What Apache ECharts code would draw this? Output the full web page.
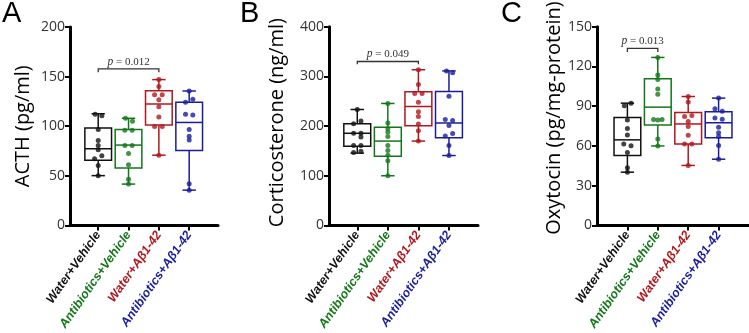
<!DOCTYPE html>
<html>
<head>
<meta charset="utf-8">
<script src="https://cdn.jsdelivr.net/npm/echarts@6/dist/echarts.min.js"></script>
<style>
html,body{margin:0;padding:0;background:#fff;}
#chart{width:749px;height:333px;}
</style>
</head>
<body>
<div id="chart"></div>
<script>
// ---------- data ----------
const categories = ['Water+Vehicle', 'Antibiotics+Vehicle', 'Water+A\u03b21-42', 'Antibiotics+A\u03b21-42'];
const categoryPositions = [1, 2, 3, 4];

// box stats: [min, q1, median, q3, max]
const acthBox = [[50.2, 65.7, 77.3, 98.3, 112.6], [41.7, 57.8, 81, 96.8, 108], [70.8, 101.2, 122.4, 135.8, 147], [35.6, 75.5, 103.8, 124.2, 135.5]];
const acthPoints = [
  [112, 110.5, 96.8, 85.5, 80.7, 76.4, 70.3, 67.3, 60.3, 50.2],
  [108, 105, 95.9, 95.9, 80.7, 80.7, 72.5, 61.2, 46.6, 41.7],
  [147, 140, 131.8, 131.8, 126.6, 119.6, 109.3, 99.8, 99.8, 70.8],
  [135.5, 127.2, 124.2, 112, 111.4, 96.8, 89.8, 86.1, 42, 35.6]
];
const acthJitter = [
  [-0.1, 0.12, 0, 0, 0, 0, 0.12, -0.12, 0, 0],
  [-0.1, 0.13, -0.12, 0.12, -0.12, 0.12, 0, 0, 0, 0],
  [0, 0, -0.14, 0.11, 0, 0, 0, -0.14, 0.11, 0],
  [0, 0.12, -0.12, -0.12, 0.12, 0, 0, 0, 0, 0]
];
const acthTicks = [0, 200, 50];
const acthBracket = [[1, 3, 157.7, 154.3]];
const acthP = '0.012';

const cortBox = [[145.5, 159.5, 185.5, 204.9, 233.4], [100, 139.4, 169.8, 197.6, 245.5], [169.8, 200.7, 239.4, 269, 313.4], [140.7, 176.4, 206.2, 269.8, 311]];
const cortPoints = [
  [233.4, 210.4, 204.9, 185.5, 185.5, 178.2, 160.7, 160.7, 149.1, 146.7],
  [245.5, 206.1, 195.2, 188, 178.9, 160.7, 151, 141.3, 130.4, 100],
  [313.4, 283.6, 265.5, 265.5, 248, 229, 219.5, 204.3, 190.4, 169.8],
  [311, 307.3, 260, 213.4, 211, 201.3, 184.9, 180, 160.7, 140.7]
];
const cortJitter = [
  [0, 0.12, -0.12, -0.12, 0.12, 0.12, -0.12, 0.12, 0.12, -0.12],
  [0, 0, 0, 0, 0, 0, 0, 0, 0, 0],
  [0, 0, -0.12, 0.12, 0, 0, 0, 0, 0, 0],
  [-0.08, 0.12, 0, -0.12, 0.12, 0, 0.12, -0.12, 0, 0]
];
const cortTicks = [0, 400, 100];
const cortBracket = [[1, 3, 330, 324.4]];
const cortP = '0.049';

const oxyBox = [[40.2, 52.8, 64.6, 81.4, 92.3], [60, 75.9, 89.3, 110.7, 126.8], [45.3, 61.4, 76.6, 85.2, 97.3], [50, 66.1, 77.5, 85.9, 96.1]];
const oxyPoints = [
  [92.3, 90.3, 79.6, 73.2, 68.2, 61.4, 60.2, 55, 43.6, 40.2],
  [126.8, 113.6, 110.2, 103, 99.1, 80, 79.6, 80, 65.2, 60],
  [97.3, 93.2, 83, 82.3, 78.4, 74.6, 68, 61.4, 61.4, 45.3],
  [96.1, 88, 86.2, 81.1, 80.2, 74.1, 70, 67.1, 60.3, 50]
];
const oxyJitter = [
  [0.12, -0.1, 0, 0, 0, -0.12, 0.12, 0, 0, 0],
  [0, 0, 0, 0, 0, -0.14, 0, 0.14, 0, 0],
  [0, 0, 0.12, -0.12, 0, 0, 0, -0.12, 0.12, 0],
  [0, -0.12, 0.12, -0.12, 0.12, 0, 0, 0, 0, 0]
];
const oxyTicks = [0, 150, 30];
const oxyBracket = [[1, 2, 133.6, 131]];
const oxyP = '0.013';

const yNames = ['ACTH (pg/ml)', 'Corticosterone (ng/ml)', 'Oxytocin (pg/mg-protein)'];
const panelLetters = ['A', 'B', 'C'];

// ---------- styles / layout ----------
const colors = ['#111111', '#13771a', '#b0181e', '#1a1e9a'];
const panels = [
  {box: acthBox, pts: acthPoints, jit: acthJitter, ticks: acthTicks, bracket: acthBracket, p: acthP,
   grid: {left: 70, top: 27, width: 148, height: 219}, xr: [0.07, 4.95], nameGap: 37, namePad: 0, letterLeft: 2},
  {box: cortBox, pts: cortPoints, jit: cortJitter, ticks: cortTicks, bracket: cortBracket, p: cortP,
   grid: {left: 329, top: 26.7, width: 149, height: 220}, xr: [0.075, 4.95], nameGap: 42, namePad: 7, letterLeft: 240},
  {box: oxyBox, pts: oxyPoints, jit: oxyJitter, ticks: oxyTicks, bracket: oxyBracket, p: oxyP,
   grid: {left: 597, top: 26.7, width: 152, height: 220}, xr: [0, 5.0], nameGap: 29, namePad: 16, letterLeft: 501}
];

const rich = {};
colors.forEach((c, i) => {
  rich['c' + (i + 1)] = {color: c, fontSize: 12.5, fontWeight: 'bold', fontStyle: 'italic', fontFamily: 'Liberation Sans'};
});

const option = {
  backgroundColor: '#fff',
  animation: false,
  title: panels.map((p, i) => ({
    text: panelLetters[i], left: p.letterLeft, top: -1, padding: 0,
    textStyle: {fontSize: 29, fontWeight: 'normal', fontFamily: 'Liberation Sans', color: '#000'}
  })),
  grid: panels.map(p => Object.assign({containLabel: false}, p.grid)),
  xAxis: panels.map((p, i) => ({
    type: 'value', gridIndex: i, min: p.xr[0], max: p.xr[1],
    splitLine: {show: false},
    axisLine: {show: true, onZero: false, lineStyle: {color: '#000', width: 3}},
    axisTick: {show: true, customValues: categoryPositions, length: 5, lineStyle: {color: '#000', width: 2}},
    axisLabel: {
      show: true, customValues: categoryPositions, rotate: 55, margin: 7,
      formatter: v => { const k = Math.round(v); return (k >= 1 && k <= 4) ? '{c' + k + '|' + categories[k - 1] + '}' : ''; },
      rich: rich
    }
  })),
  yAxis: panels.map((p, i) => ({
    type: 'value', gridIndex: i, min: p.ticks[0], max: p.ticks[1], interval: p.ticks[2],
    name: yNames[i], nameLocation: 'middle', nameGap: p.nameGap,
    nameTextStyle: {fontSize: 20, fontFamily: 'Open Sans', color: '#000', padding: [0, 0, 0, p.namePad]},
    splitLine: {show: false},
    axisLine: {show: true, lineStyle: {color: '#000', width: 3}},
    axisTick: {show: true, length: 5, lineStyle: {color: '#000', width: 2}},
    axisLabel: {fontSize: 14, fontFamily: 'Open Sans', color: '#333', margin: 5}
  })),
  series: []
};

panels.forEach((p, pi) => {
  p.box.forEach((b, gi) => {
    const color = colors[gi];
    option.series.push({
      type: 'custom', xAxisIndex: pi, yAxisIndex: pi, z: 2,
      data: [[categoryPositions[gi]].concat(b)],
      encode: {x: 0, y: [1, 2, 3, 4, 5]},
      renderItem: function (params, api) {
        const x = api.value(0);
        const pts = [1, 2, 3, 4, 5].map(k => api.coord([x, api.value(k)]));
        const unit = api.size([1, 0])[0];
        const hw = unit * 0.44, cw = unit * 0.22;
        const cx = pts[0][0];
        const ls = {stroke: color, lineWidth: 1.5, fill: null};
        return {
          type: 'group',
          children: [
            {type: 'line', shape: {x1: cx, y1: pts[0][1], x2: cx, y2: pts[1][1]}, style: ls},
            {type: 'line', shape: {x1: cx, y1: pts[3][1], x2: cx, y2: pts[4][1]}, style: ls},
            {type: 'line', shape: {x1: cx - cw, y1: pts[0][1], x2: cx + cw, y2: pts[0][1]}, style: ls},
            {type: 'line', shape: {x1: cx - cw, y1: pts[4][1], x2: cx + cw, y2: pts[4][1]}, style: ls},
            {type: 'rect', shape: {x: cx - hw, y: pts[3][1], width: 2 * hw, height: pts[1][1] - pts[3][1]}, style: ls},
            {type: 'line', shape: {x1: cx - hw, y1: pts[2][1], x2: cx + hw, y2: pts[2][1]}, style: ls}
          ]
        };
      }
    });
    option.series.push({
      type: 'scatter', xAxisIndex: pi, yAxisIndex: pi, z: 3,
      symbolSize: 5, itemStyle: {color: color},
      data: p.pts[gi].map((v, k) => [categoryPositions[gi] + p.jit[gi][k], v])
    });
  });
  const ptxt = p.p;
  option.series.push({
    type: 'custom', xAxisIndex: pi, yAxisIndex: pi, z: 4,
    data: p.bracket,
    renderItem: function (params, api) {
      const a = api.coord([api.value(0), api.value(2)]);
      const b = api.coord([api.value(1), api.value(2)]);
      const a2 = api.coord([api.value(0), api.value(3)]);
      const b2 = api.coord([api.value(1), api.value(3)]);
      return {
        type: 'group',
        children: [
          {type: 'polyline', shape: {points: [a2, a, b, b2]}, style: {stroke: '#333', lineWidth: 1.3, fill: null}},
          {type: 'text', x: (a[0] + b[0]) / 2, y: a[1] - 7,
           style: {text: '{i|p} = ' + ptxt, align: 'center', verticalAlign: 'middle',
             fontFamily: 'Liberation Serif', fontSize: 11, fill: '#333',
             rich: {i: {fontStyle: 'italic', fontFamily: 'Liberation Serif', fontSize: 11.5, fill: '#333'}}}}
        ]
      };
    }
  });
});

const chart = echarts.init(document.getElementById('chart'), null, {renderer: 'canvas'});
chart.setOption(option);
</script>
</body>
</html>
